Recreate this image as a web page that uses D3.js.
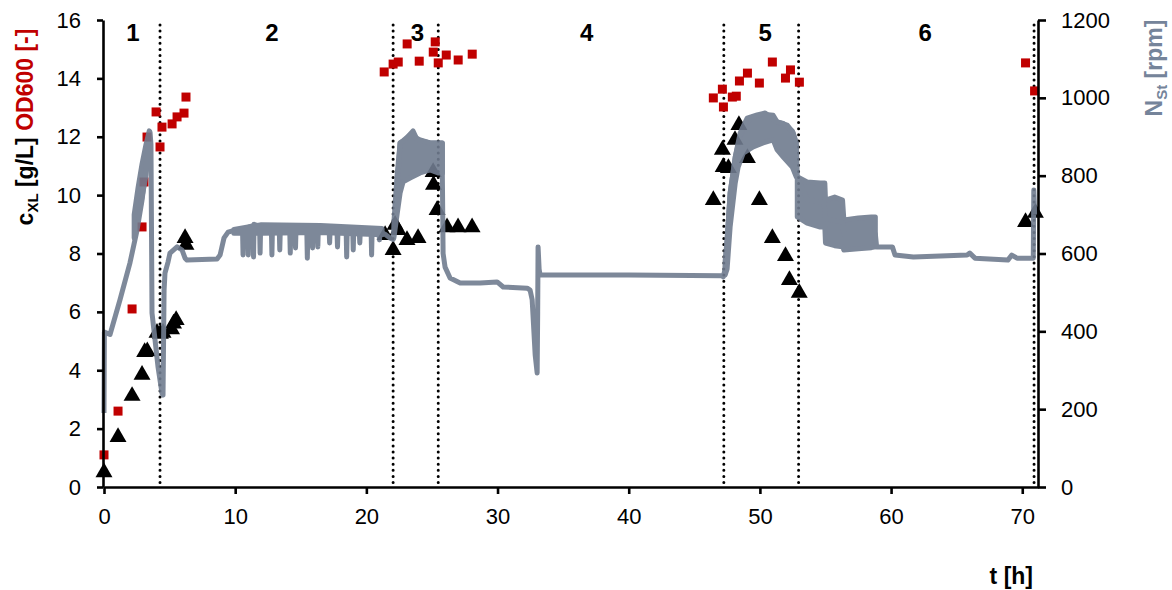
<html>
<head>
<meta charset="utf-8">
<script src="https://cdn.jsdelivr.net/npm/d3@7"></script>
<style>
  body { margin: 0; background: #fff; }
  svg text { font-family: "Liberation Sans", Arial, sans-serif; }
</style>
</head>
<body>
<div id="chart"></div>
<script>
// OD600 (red squares, left axis)
var odT = [0, 1.07, 2.14, 2.9, 3.05, 3.28, 3.97, 4.27, 4.42, 5.19, 5.57, 6.1, 6.25,
  21.36, 22.04, 22.43, 23.11, 24.03, 25.1, 25.25, 25.48, 26.09, 27.0, 28.07,
  46.45, 47.14, 47.22, 47.9, 48.2, 48.44, 49.05, 49.96, 50.95, 51.95, 52.33, 53.01,
  70.25, 70.94];
var odV = [1.10, 2.60, 6.10, 8.91, 10.45, 11.99, 12.85, 11.65, 12.33, 12.44, 12.68, 12.81, 13.36,
  14.22, 14.49, 14.56, 15.18, 14.59, 14.9, 15.25, 14.53, 14.8, 14.63, 14.83,
  13.33, 13.63, 13.02, 13.36, 13.39, 13.91, 14.18, 13.84, 14.56, 14.01, 14.29, 13.87,
  14.53, 13.57];

// cXL (black triangles, left axis)
var cxT = [0, 1.07, 2.14, 2.9, 3.1, 3.3, 4.04, 4.3, 4.5, 5.15, 5.3, 5.5, 6.18, 6.25,
  21.43, 22.04, 22.19, 22.42, 23.1, 23.94, 25.09, 25.12, 25.39, 26.15, 26.99, 28.06,
  46.45, 47.14, 47.2, 47.6, 48.1, 48.4, 49.05, 49.96, 50.95, 51.95, 52.25, 53.0,
  70.25, 71.0];
var cxV = [0.5, 1.71, 3.12, 3.84, 4.62, 4.65, 5.28, 5.25, 5.28, 5.4, 5.6, 5.72, 8.53, 8.3,
  8.63, 8.12, 8.98, 8.8, 8.46, 8.53, 10.79, 10.35, 9.49, 8.9, 8.9, 8.9,
  9.83, 11.55, 10.96, 10.93, 11.89, 12.4, 11.27, 9.83, 8.53, 7.91, 7.09, 6.65,
  9.08, 9.39];

// stirrer speed N_St [rpm] (grey line, right axis)
var nst = [
  [0, 190], [0.03, 398], [0.46, 392], [1.22, 481], [1.98, 576], [2.52, 660], [2.9, 737],
  [3.28, 840], [3.51, 912], [3.58, 880], [3.66, 447], [3.89, 378], [4.12, 308], [4.42, 241],
  [4.5, 236], [4.58, 506], [4.65, 550], [4.88, 578], [5.03, 601], [5.57, 617], [5.95, 609],
  [6.18, 588], [6.33, 583], [8.62, 586], [8.85, 596], [9.15, 640], [9.46, 655], [9.99, 660],
  [10.56, 662], [10.6, 596], [10.64, 662], [10.96, 665], [11.0, 596], [11.04, 668],
  [11.36, 672], [11.4, 591], [11.44, 675], [11.86, 670], [11.9, 601], [11.94, 668], [12.3, 664],
  [12.76, 662], [12.8, 596], [12.84, 664], [13.36, 665], [13.4, 609], [13.44, 662],
  [14.16, 660], [14.2, 601], [14.24, 662], [14.56, 664], [14.6, 614], [14.64, 666],
  [15.46, 660], [15.5, 588], [15.54, 662], [15.86, 664], [15.9, 614], [15.94, 666],
  [16.26, 667], [16.3, 617], [16.34, 665], [16.8, 668], [17.16, 664], [17.2, 627], [17.24, 662],
  [17.76, 660], [17.8, 617], [17.84, 660], [18.46, 658], [18.5, 591], [18.54, 660],
  [18.96, 662], [19.0, 609], [19.04, 660], [19.46, 658], [19.5, 627], [19.54, 660],
  [20.36, 662], [20.4, 596], [20.44, 660], [20.96, 658], [21.0, 635], [21.04, 655],
  [21.4, 650], [21.8, 640], [22.04, 636], [22.19, 690],
  [22.57, 884], [22.95, 892], [23.3, 905], [23.56, 915], [23.87, 892], [24.86, 884], [25.77, 884],
  [25.85, 600], [26.0, 565], [26.38, 537], [27.15, 524], [28.67, 524], [29.97, 527], [30.43, 514],
  [32.26, 511], [32.48, 506], [32.64, 481], [32.87, 339], [33.02, 293], [33.06, 450], [33.09, 617],
  [33.17, 560], [33.24, 545], [40, 545], [47.12, 543],
  [47.2, 540], [47.35, 560], [47.5, 635], [47.73, 755], [48.12, 848], [48.5, 910], [49.03, 948],
  [49.79, 956], [50.4, 961], [50.78, 951], [51.32, 938], [52.08, 930], [52.54, 910], [52.77, 884],
  [52.85, 797], [53.6, 740], [54.9, 730], [55.0, 690], [56.3, 680], [56.4, 650], [58.8, 650],
  [58.9, 617], [60.1, 617], [60.3, 596], [61.7, 591], [65.8, 596], [66.0, 601], [66.4, 588],
  [68.9, 583], [69.2, 596], [69.6, 588], [70.84, 588], [70.88, 763], [70.95, 700]
];

// noisy bands of the stirrer signal: [t, low, high]
var band1 = [[2.3, 640, 700], [2.6, 690, 770], [2.9, 745, 830], [3.2, 800, 880], [3.45, 880, 915]];
var band2 = [[9.9, 652, 662], [12.0, 652, 674], [16.5, 654, 672], [21.2, 648, 664]];
var band3 = [[22.1, 640, 680], [22.34, 700, 800], [22.57, 755, 884], [22.8, 784, 890], [23.33, 794, 905],
  [24.1, 807, 892], [24.86, 815, 884], [25.47, 807, 884], [25.8, 807, 884]];
var band5 = [[47.35, 545, 580], [47.5, 560, 635], [47.73, 668, 755], [48.12, 781, 848], [48.34, 822, 880],
  [48.73, 858, 925], [49.49, 874, 950], [50.25, 884, 958], [51.01, 892, 955], [51.32, 866, 938],
  [51.78, 848, 934], [52.47, 822, 915], [52.77, 797, 884]];
var band6 = [[52.85, 694, 797], [53.6, 678, 784], [54.6, 668, 781], [54.95, 668, 781], [55.0, 627, 737],
  [55.7, 620, 745], [56.3, 617, 737], [56.4, 609, 686], [57.5, 612, 691], [58.5, 615, 694], [58.8, 617, 694]];

// phase borders and labels
var phaseLines = [4.27, 22.04, 25.48, 47.25, 52.95, 70.9];
var phaseLabels = ["1", "2", "3", "4", "5", "6"];
var phaseLabelT = [2.2, 12.8, 23.9, 36.8, 50.4, 62.6];

var xTicks = [0, 10, 20, 30, 40, 50, 60, 70];
var yTicks = [0, 2, 4, 6, 8, 10, 12, 14, 16];
var y2Ticks = [0, 200, 400, 600, 800, 1000, 1200];

var W = 1172, H = 590;
var svg = d3.select("#chart").append("svg").attr("width", W).attr("height", H);

var x = d3.scaleLinear().domain([0, 71.2]).range([104, 1038]);
var y = d3.scaleLinear().domain([0, 16]).range([487, 20]);
var y2 = d3.scaleLinear().domain([0, 1200]).range([487, 20]);

var grey = "#707c8f", red = "#c00000";

// phase border lines (dotted)
svg.selectAll("line.phase").data(phaseLines).enter().append("line")
  .attr("class", "phase")
  .attr("x1", function(d) { return x(d); }).attr("x2", function(d) { return x(d); })
  .attr("y1", 25).attr("y2", 487)
  .attr("stroke", "#000").attr("stroke-width", 3)
  .attr("stroke-linecap", "round").attr("stroke-dasharray", "0,6.1");

svg.selectAll("text.phase").data(phaseLabels).enter().append("text")
  .attr("class", "phase")
  .attr("x", function(d, i) { return x(phaseLabelT[i]); }).attr("y", 41)
  .attr("text-anchor", "middle").attr("font-size", 24).attr("font-weight", "bold")
  .text(function(d) { return d; });

// markers
var tri = d3.symbol().type(d3.symbolTriangle).size(125);
svg.selectAll("path.cx").data(cxT).enter().append("path")
  .attr("class", "cx").attr("d", tri)
  .attr("transform", function(d, i) { return "translate(" + x(d) + "," + y(cxV[i]) + ")"; })
  .attr("fill", "#000");

svg.selectAll("rect.od").data(odT).enter().append("rect")
  .attr("class", "od")
  .attr("x", function(d) { return x(d) - 4.5; })
  .attr("y", function(d, i) { return y(odV[i]) - 4.5; })
  .attr("width", 9).attr("height", 9).attr("fill", red);

// stirrer speed (drawn on top, slightly transparent)
var g = svg.append("g").attr("opacity", 0.9);
var area = d3.area().x(function(d) { return x(d[0]); })
  .y0(function(d) { return y2(d[1]); }).y1(function(d) { return y2(d[2]); });
[band1, band2, band3, band5, band6].forEach(function(b) {
  g.append("path").attr("d", area(b)).attr("fill", grey)
    .attr("stroke", grey).attr("stroke-width", 5).attr("stroke-linejoin", "round");
});
var line = d3.line().x(function(d) { return x(d[0]); }).y(function(d) { return y2(d[1]); });
g.append("path").attr("d", line(nst)).attr("fill", "none")
  .attr("stroke", grey).attr("stroke-width", 5).attr("stroke-linejoin", "round");

// axes
function styleAxis(sel) {
  sel.selectAll("path.domain").attr("stroke", "#000").attr("stroke-width", 2.6);
  sel.selectAll(".tick line").attr("stroke", "#000").attr("stroke-width", 2.6);
  sel.selectAll(".tick text").attr("font-size", 22).attr("fill", "#000")
    .attr("font-family", "'Liberation Sans', Arial, sans-serif");
}
var xa = svg.append("g").attr("transform", "translate(0,487)")
  .call(d3.axisBottom(x).tickValues(xTicks).tickSize(7).tickSizeOuter(0).tickPadding(14));
styleAxis(xa);
var ya = svg.append("g").attr("transform", "translate(103,0)")
  .call(d3.axisLeft(y).tickValues(yTicks).tickSize(6).tickSizeOuter(0).tickPadding(16));
styleAxis(ya);
var y2a = svg.append("g").attr("transform", "translate(1038,0)")
  .call(d3.axisRight(y2).tickValues(y2Ticks).tickFormat(d3.format("d")).tickSize(8).tickSizeOuter(0).tickPadding(15));
styleAxis(y2a);

// axis titles
var lt = svg.append("text").attr("transform", "translate(33,127) rotate(-90)")
  .attr("text-anchor", "middle").attr("font-size", 23).attr("font-weight", "bold");
lt.append("tspan").text("c");
lt.append("tspan").attr("font-size", 15).attr("dy", 5).text("XL");
lt.append("tspan").attr("dy", -5).text(" [g/L]  ");
lt.append("tspan").attr("fill", red).text("OD600 [-]");

var rt = svg.append("text").attr("transform", "translate(1162,68) rotate(-90)")
  .attr("text-anchor", "middle").attr("font-size", 23).attr("font-weight", "bold").attr("fill", "#75849a");
rt.append("tspan").text("N");
rt.append("tspan").attr("font-size", 15).attr("dy", 5).text("St");
rt.append("tspan").attr("dy", -5).text(" [rpm]");

svg.append("text").attr("x", 1033).attr("y", 584).attr("text-anchor", "end")
  .attr("font-size", 23).attr("font-weight", "bold").text("t [h]");
</script>
</body>
</html>
